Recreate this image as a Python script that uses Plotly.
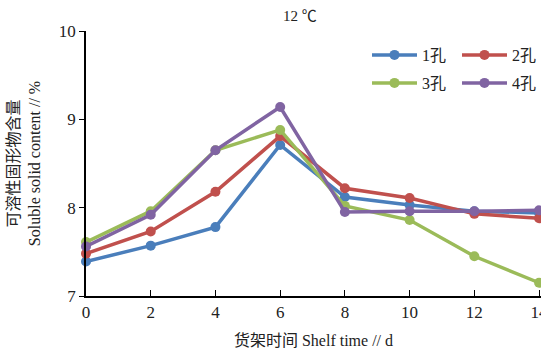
import plotly.graph_objects as go

days = [0, 2, 4, 6, 8, 10, 12, 14]
s1 = [7.39, 7.57, 7.78, 8.71, 8.12, 8.03, 7.96, 7.94]
s2 = [7.48, 7.73, 8.18, 8.81, 8.22, 8.11, 7.93, 7.88]
s3 = [7.61, 7.96, 8.65, 8.88, 8.02, 7.86, 7.45, 7.15]
s4 = [7.56, 7.92, 8.65, 9.14, 7.95, 7.96, 7.96, 7.97]
names = ["1孔", "2孔", "3孔", "4孔"]
colors = ["#4a7ebb", "#c0504d", "#9bbb59", "#8064a2"]
legend_ids = ["legend", "legend", "legend2", "legend2"]
x_ticks = [0, 2, 4, 6, 8, 10, 12, 14]
y_ticks = [7, 8, 9, 10]

FONT = "Liberation Serif, Noto Sans CJK SC, serif"
L, T, W, H = 86, 31, 455, 265

fig = go.Figure()
for name, ys, c, lg in zip(names, [s1, s2, s3, s4], colors, legend_ids):
    fig.add_trace(go.Scatter(
        x=days, y=ys, name=name, mode="lines+markers",
        line=dict(color=c, width=3.5),
        marker=dict(color=c, size=10),
        cliponaxis=False, legend=lg,
    ))

def px_x(p):
    return (p - L) / W

def px_y(p):
    return 1 - (p - T) / H

leg_common = dict(
    orientation="h", xanchor="left", yanchor="middle",
    entrywidth=30, entrywidthmode="pixels", itemwidth=45,
    font=dict(size=16), bgcolor="rgba(0,0,0,0)",
)

fig.update_layout(
    width=541, height=356,
    margin=dict(l=L, r=541 - L - W, t=T, b=356 - T - H, autoexpand=False),
    paper_bgcolor="white", plot_bgcolor="white",
    font=dict(family=FONT, size=15, color="#222"),
    showlegend=True,
    legend=dict(x=px_x(367), y=px_y(55), **leg_common),
    legend2=dict(x=px_x(367), y=px_y(83), **leg_common),
    xaxis=dict(
        range=[0, 14.06], tickvals=x_ticks, ticks="inside", ticklen=6,
        tickcolor="black", showline=True, linecolor="black", linewidth=1.5,
        showgrid=False, zeroline=False, tickfont=dict(size=17), automargin=False,
        ticklabeloverflow="allow",
        title=dict(text="货架时间 Shelf time // d", font=dict(size=16), standoff=14),
    ),
    yaxis=dict(
        range=[7, 10], tickvals=y_ticks, ticks="outside", ticklen=5,
        tickcolor="black", showline=True, linecolor="black", linewidth=1.5,
        showgrid=False, zeroline=False, tickfont=dict(size=17), automargin=False,
        title=dict(text="可溶性固形物含量<br>Soluble solid content // %", font=dict(size=16), standoff=14),
    ),
    annotations=[dict(
        text="12 ℃", x=px_x(300), y=px_y(16), xref="paper", yref="paper",
        showarrow=False, xanchor="center", yanchor="middle", font=dict(size=15),
    )],
)

fig.write_html(
    "out.html",
    config={"displayModeBar": False},
    post_script="document.body.style.margin='0';document.body.style.overflow='hidden';",
)
